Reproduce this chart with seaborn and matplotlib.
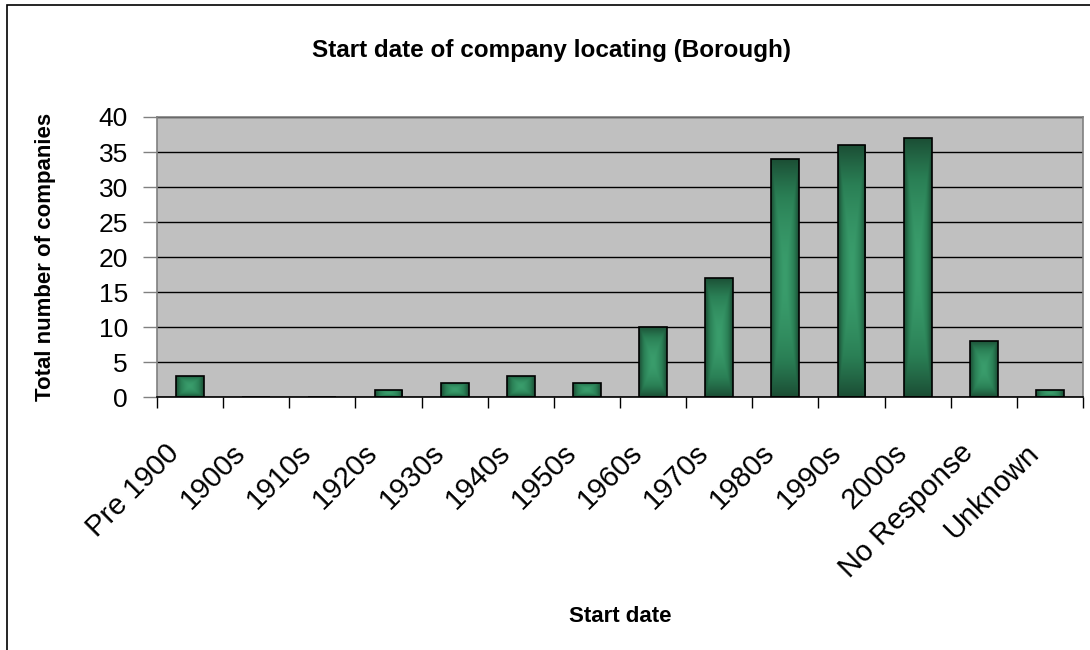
import numpy as np
import pandas as pd
import matplotlib
matplotlib.use('Agg')
import matplotlib.pyplot as plt
import matplotlib.transforms as mtransforms
from matplotlib.colors import LinearSegmentedColormap
from matplotlib.patches import Rectangle
import seaborn as sns


categories = ['Pre 1900', '1900s', '1910s', '1920s', '1930s', '1940s', '1950s',
              '1960s', '1970s', '1980s', '1990s', '2000s', 'No Response', 'Unknown']
companies = [3, 0, 0, 1, 2, 3, 2, 10, 17, 34, 36, 37, 8, 1]
y_ticks = [0, 5, 10, 15, 20, 25, 30, 35, 40]


def add_gradient(ax, cmap):
    """
        Fill each bar with a gradient that is light in the middle and dark at the edges.
    """

    u = np.linspace(-1, 1, 60)
    v = np.linspace(-1, 1, 200)
    uu, vv = np.meshgrid(u, v)
    shade = np.maximum(np.abs(uu) ** 1.6, np.abs(vv) ** 1.8)
    for patch in ax.patches:
        h = patch.get_height()
        if h <= 0:
            continue
        x0 = patch.get_x()
        w = patch.get_width()
        img = ax.imshow(shade, cmap=cmap, vmin=0, vmax=1, aspect='auto',
                        extent=(x0, x0 + w, 0, h), zorder=2.5, interpolation='bilinear')
        img.set_clip_path(patch)
        patch.set_facecolor('none')
        patch.set_zorder(3)


def main():
    plt.rcParams['font.family'] = ['Liberation Sans', 'DejaVu Sans']
    fig = plt.figure(figsize=(10.9, 6.5), dpi=100)
    ax = fig.add_axes([0.144, 0.389, 0.8496, 0.431])

    data = pd.DataFrame({'start': categories, 'count': companies})
    sns.barplot(data=data, x='start', y='count', color='#2f8a5c', width=0.42,
                edgecolor='black', linewidth=1.2, ax=ax, zorder=3)

    cmap = LinearSegmentedColormap.from_list('bar', ['#3a9d6c', '#2a7f55', '#1b4d34'])
    add_gradient(ax, cmap)

    ax.set_facecolor('#c0c0c0')
    ax.set_xlim(-0.5, len(categories) - 0.5)
    ax.set_ylim(0, 40)
    ax.set_yticks(y_ticks)
    ax.yaxis.grid(True, color='black', linewidth=1)
    ax.set_axisbelow(True)
    for side in ['top', 'right', 'left', 'bottom']:
        ax.spines[side].set_color('#808080')
        ax.spines[side].set_linewidth(1.2)
    ax.spines['bottom'].set_color('black')

    ax.tick_params(axis='y', labelsize=19, length=10, width=1, color='#808080', pad=11)
    ax.set_xticks(np.arange(len(categories)))
    ax.set_xticklabels(categories, rotation=45, ha='right', va='center',
                       rotation_mode='anchor', fontsize=21)
    ax.tick_params(axis='x', which='major', length=0, pad=37)
    ax.set_xticks(np.arange(len(categories) + 1) - 0.5, minor=True)
    ax.tick_params(axis='x', which='minor', length=8, width=1, color='black')
    shift = mtransforms.ScaledTranslation(-0.15, 0, fig.dpi_scale_trans)
    for lbl in ax.get_xticklabels():
        lbl.set_transform(lbl.get_transform() + shift)

    ax.set_xlabel('')
    ax.set_ylabel('')
    fig.text(0.506, 0.923, 'Start date of company locating (Borough)',
             ha='center', va='center', fontsize=17.5, fontweight='bold')
    fig.text(0.042, 0.605, 'Total number of companies', rotation=90,
             ha='center', va='center', fontsize=16, fontweight='bold')
    fig.text(0.569, 0.051, 'Start date', ha='center', va='center',
             fontsize=16, fontweight='bold')

    fig.patches.append(Rectangle((0.0065, -0.05), 1.2, 1.042, transform=fig.transFigure,
                                 fill=False, edgecolor='black', linewidth=1.2))

    plt.savefig('out.png', dpi=100)


if __name__ == '__main__':
    main()
